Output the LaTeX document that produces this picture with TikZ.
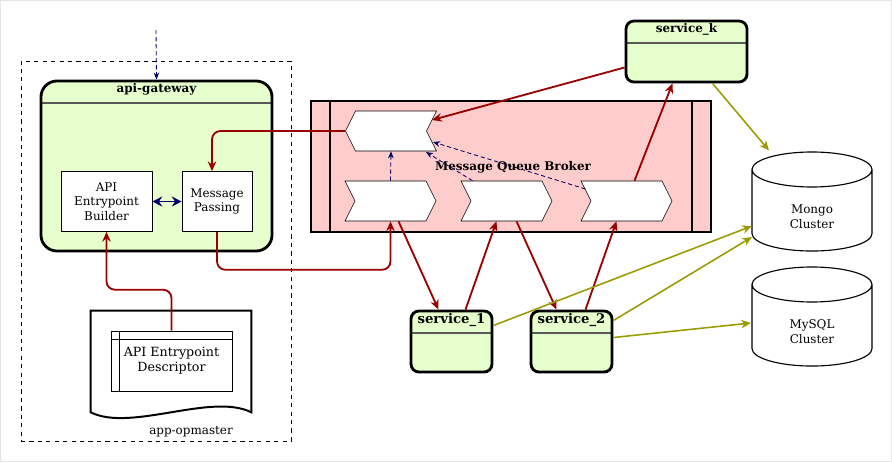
\documentclass[tikz,border=0pt]{standalone}
\usepackage{fontspec}
\setmainfont{DejaVu Serif}
\usepackage{tikz}
\usetikzlibrary{arrows.meta, positioning, calc, shapes.symbols}
\definecolor{gwgreen}{HTML}{E6FFCC}
\definecolor{brokerpink}{HTML}{FFCCCC}
\definecolor{msgred}{HTML}{990000}
\definecolor{navyblue}{HTML}{000066}
\definecolor{dbolive}{HTML}{999900}
\newcommand{\lbl}{\fontsize{8.5}{10.5}\selectfont}
\newcommand{\biglbl}{\fontsize{9.4}{10.5}\selectfont}

\begin{document}
\begin{tikzpicture}[
    x=0.025cm, y=-0.025cm,
    >=Stealth,
    app/.style={draw, line width=2pt, fill=gwgreen, rounded corners=#1,
                path picture={\draw[gray!70!black, thick]
                  ([yshift=-0.55cm]path picture bounding box.north west) --
                  ([yshift=-0.55cm]path picture bounding box.north east);}},
    ttl/.style={font=\lbl\bfseries, inner sep=2.5pt},
    box/.style={draw, fill=white, align=center, font=\lbl, inner sep=1pt,
                minimum width=#1, minimum height=1.5cm},
    chev/.style={signal, draw, fill=white, inner sep=0pt, signal pointer angle=127,
                 minimum width=2.275cm, minimum height=1cm},
    db/.style={inner sep=0pt, minimum width=3.1cm, minimum height=2.575cm,
               path picture={\draw[thick, fill=white]
                 ([shift={(0.05cm,-0.4875cm)}]path picture bounding box.north west) --
                 ([shift={(0.05cm,0.4875cm)}]path picture bounding box.south west)
                 arc[start angle=180, end angle=360, x radius=1.5cm, y radius=0.4375cm] --
                 ([shift={(-0.05cm,-0.4875cm)}]path picture bounding box.north east)
                 arc[start angle=0, end angle=180, x radius=1.5cm, y radius=0.4375cm] -- cycle
                 ([shift={(0.05cm,-0.4875cm)}]path picture bounding box.north west)
                 arc[start angle=180, end angle=360, x radius=1.5cm, y radius=0.4375cm];}},
    dbtext/.style={font=\lbl, align=center},
    redarr/.style={->, >={Stealth[length=7pt,width=6pt]}, msgred, line width=1.3pt, rounded corners=6pt},
    dbarr/.style={->, >={Stealth[length=7pt,width=6pt]}, dbolive, line width=1.1pt},
    mqarr/.style={->, >={Stealth[length=5pt,width=4pt]}, navyblue, dash pattern=on 3pt off 2pt, line width=0.6pt},
]
\useasboundingbox (0,0) rectangle (892,462);
\draw[gray!20] (0.5,0.5) rectangle (891.5,461.5);

\node[draw, dashed, minimum width=6.75cm, minimum height=9.5cm] (opm) at (156,251) {};
\node[font=\lbl] (opmlbl) at (191,432) {app-opmaster};

\node[app=0.4cm, minimum width=5.775cm, minimum height=4.25cm] (gw) at (156.5,166) {};
\node[ttl, below=0pt of gw.north] (gwttl) {api-gateway};
\node[box=2.275cm] (builder) at (106.5,201.5) {API\\Entrypoint\\Builder};
\node[box=1.75cm] (msgpass) at (217,201.5) {Message\\Passing};

\node[minimum width=4cm, minimum height=2.525cm] (doc) at (171,361.5) {};
\draw[line width=1.4pt, fill=white] (doc.north west) -- (doc.north east) -- (doc.south east)
  .. controls ($(doc.south east)+(-40,-20)$) and ($(doc.south west)+(40,20)$) .. (doc.south west) -- cycle;
\node[box=3.025cm, font=\fontsize{9}{10.5}\selectfont,
      path picture={\draw
        ([xshift=0.2cm]path picture bounding box.north west) -- ([xshift=0.2cm]path picture bounding box.south west)
        (path picture bounding box.north west) ++(0,-0.2cm) -- ++(3.1cm,0);}] (desc) at (171.5,361)
  {API Entrypoint\\Descriptor};

\node[draw, line width=2pt, fill=brokerpink, minimum width=10cm, minimum height=3.275cm,
      path picture={\draw[line width=2pt]
        ([xshift=0.475cm]path picture bounding box.north west) -- ([xshift=0.475cm]path picture bounding box.south west)
        ([xshift=-0.475cm]path picture bounding box.north east) -- ([xshift=-0.475cm]path picture bounding box.south east);}]
  (broker) at (511,166.5) {};
\node[chev, signal to=west, signal from=east] (qout) at (391,131) {};
\node[chev, signal to=east, signal from=west] (q1) at (390.5,201) {};
\node[chev, signal to=east, signal from=west] (q2) at (506.5,201) {};
\node[chev, signal to=east, signal from=west] (q3) at (626.5,201) {};

\node[app=0.2cm, minimum width=2.025cm, minimum height=1.525cm] (svc1) at (451.5,341.5) {};
\node[ttl, font=\biglbl\bfseries, below=0pt of svc1.north] {service\_1};
\node[app=0.2cm, minimum width=2.025cm, minimum height=1.525cm] (svc2) at (571.5,341.5) {};
\node[ttl, font=\biglbl\bfseries, below=0pt of svc2.north] {service\_2};
\node[app=0.2cm, minimum width=3.025cm, minimum height=1.525cm] (svck) at (686.5,51.5) {};
\node[ttl, below=0pt of svck.north] {service\_k};

\node[db] (mongo) at (812,201.5) {};
\node[dbtext] (mongolbl) at ($(mongo.center)+(0,15)$) {Mongo\\Cluster};
\node[db] (mysql) at (812,316.5) {};
\node[dbtext] (mysqllbl) at ($(mysql.center)+(0,15)$) {MySQL\\Cluster};

\coordinate (gwin) at (156,30);
\draw[mqarr] (gwin) -- (gw.north);
\draw[<->, >={Stealth[length=7pt,width=7pt]}, navyblue, line width=1.4pt] (builder) -- (msgpass);
\draw[redarr] (desc.north) -- ++(0,-41) -| (builder.south);
\draw[redarr] (qout.west) -| ($(msgpass.north)+(-5,0)$);
\draw[redarr] (msgpass.south) -- ++(0,38) -| (q1.south);

\draw[mqarr] (q1.north) -- (qout.south);
\draw[mqarr] ($(q2.north)+(-34,0)$) -- ($(qout.center)+(35,21)$);
\draw[mqarr] ($(q3.center)+(-41,-12)$) -- ($(qout.center)+(42,11)$);
\node[font=\lbl\bfseries] (brokerlbl) at (513,167) {Message Queue Broker};

\draw[redarr] ($(svck.west)+(0,16)$) -- ($(qout.center)+(41,-11)$);
\draw[redarr] ($(q3.north)+(8,0)$) -- ($(svck.south)+(-14,0)$);
\draw[redarr] ($(q1.south)+(8,0)$) -- ($(svc1.north)+(-13,0)$);
\draw[redarr] ($(svc1.north)+(14,0)$) -- ($(q2.south)+(-10,0)$);
\draw[redarr] ($(q2.south)+(10,0)$) -- ($(svc2.north)+(-15,0)$);
\draw[redarr] ($(svc2.north)+(14,0)$) -- ($(q3.south)+(-10,0)$);

\draw[dbarr] ($(svck.south)+(26,0)$) -- ($(mongo.center)+(-43,-51)$);
\draw[dbarr] ($(svc1.east)+(0,-16)$) -- ($(mongo.center)+(-60,24.5)$);
\draw[dbarr] ($(svc2.east)+(0,-21)$) -- ($(mongo.center)+(-60,35.5)$);
\draw[dbarr] ($(svc2.east)+(0,-4)$) -- ($(mysql.center)+(-61,6.5)$);
\end{tikzpicture}
\end{document}
